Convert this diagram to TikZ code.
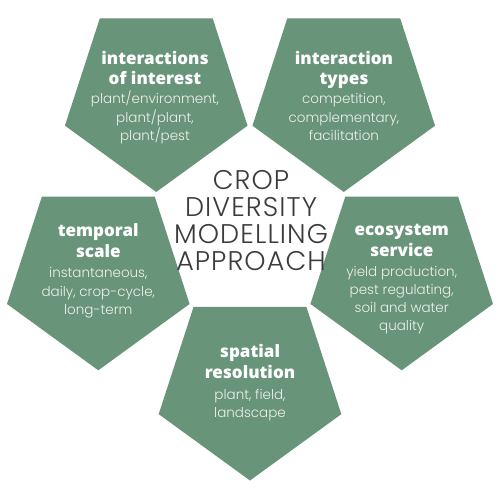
\documentclass[tikz,border=0pt]{standalone}
\usepackage{fontspec}
\setmainfont{Poppins}
\IfFontExistsTF{Open Sans ExtraBold}
  {\newfontfamily\titlefont{Open Sans ExtraBold}}
  {\IfFontExistsTF{Open Sans Extrabold}
    {\newfontfamily\titlefont{Open Sans Extrabold}}
    {\newfontfamily\titlefont{Open Sans Bold}}}
\newfontfamily\bodyfont{Poppins}[UprightFont=* Light]
\newfontfamily\centerfont{Poppins}[UprightFont=* Light, LetterSpace=4]
\definecolor{sage}{RGB}{104,148,121}
\definecolor{bodytext}{RGB}{238,241,236}
\definecolor{centertext}{RGB}{60,60,60}
\tikzset{
  pentfill/.style={fill=sage},
  ttl/.style={anchor=base, text=white, inner sep=0pt, font=\titlefont\fontsize{17}{21}\selectfont},
  bdy/.style={anchor=base, text=bodytext, inner sep=0pt, font=\bodyfont\fontsize{13.5}{18}\selectfont},
  ctr/.style={anchor=base, text=centertext, inner sep=0pt, font=\centerfont\fontsize{27}{27}\selectfont}
}
\begin{document}
\begin{tikzpicture}[x=1pt,y=-1pt]
\useasboundingbox (0,0) rectangle (500,500);
\fill[white] (0,0) rectangle (500,500);
\foreach \n/\px/\py in {tl/156.25/96, tr/343.75/96, lf/98.3/274.3, rt/401.7/274.3, bt/250/384.5}{
  \coordinate (\n) at (\px,\py);
  \fill[pentfill, shift={(\n)}] (90:96) -- (162:96) -- (234:96) -- (306:96) -- (18:96) -- cycle;
}
% top-left
\node[ttl] (tl-t1) at (155,64.5) {interactions};
\node[ttl] (tl-t2) at (155,85) {of interest};
\node[bdy] (tl-b1) at (155,104) {plant/environment,};
\node[bdy] (tl-b2) at (155,122) {plant/plant,};
\node[bdy] (tl-b3) at (155,140) {plant/pest};
% top-right
\node[ttl] (tr-t1) at (344,64.5) {interaction};
\node[ttl] (tr-t2) at (344,85) {types};
\node[bdy] (tr-b1) at (344,104) {competition,};
\node[bdy] (tr-b2) at (344,122) {complementary,};
\node[bdy] (tr-b3) at (344,140) {facilitation};
% left
\node[ttl] (lf-t1) at (98.3,236) {temporal};
\node[ttl] (lf-t2) at (98.3,257) {scale};
\node[bdy] (lf-b1) at (98.3,277.5) {instantaneous,};
\node[bdy] (lf-b2) at (98.3,296) {daily, crop-cycle,};
\node[bdy] (lf-b3) at (98.3,314.5) {long-term};
% right
\node[ttl] (rt-t1) at (401.7,235.5) {ecosystem};
\node[ttl] (rt-t2) at (401.7,256) {service};
\node[bdy] (rt-b1) at (401.7,276.5) {yield production,};
\node[bdy] (rt-b2) at (401.7,294.5) {pest regulating,};
\node[bdy] (rt-b3) at (401.7,312.7) {soil and water};
\node[bdy] (rt-b4) at (401.7,330.5) {quality};
% bottom
\node[ttl] (bt-t1) at (250,357) {spatial};
\node[ttl] (bt-t2) at (250,378) {resolution};
\node[bdy] (bt-b1) at (250,399) {plant, field,};
\node[bdy] (bt-b2) at (250,417) {landscape};
% centre
\node[ctr] (c1) at (251,189) {CROP};
\node[ctr] (c2) at (251,216.5) {DIVERSITY};
\node[ctr] (c3) at (251,243.5) {MODELLING};
\node[ctr] (c4) at (251,270.5) {APPROACH};
\end{tikzpicture}
\end{document}
